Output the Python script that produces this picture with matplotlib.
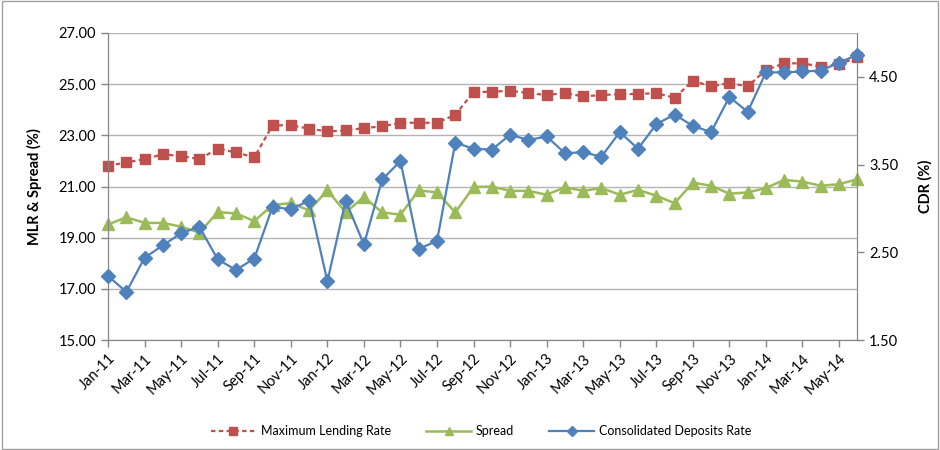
import matplotlib
matplotlib.use("Agg")
import matplotlib.pyplot as plt
from matplotlib.patches import Rectangle

plt.rcParams['font.family'] = ['Lato', 'DejaVu Sans']

months = ['Jan-11', 'Feb-11', 'Mar-11', 'Apr-11', 'May-11', 'Jun-11', 'Jul-11', 'Aug-11',
          'Sep-11', 'Oct-11', 'Nov-11', 'Dec-11', 'Jan-12', 'Feb-12', 'Mar-12', 'Apr-12',
          'May-12', 'Jun-12', 'Jul-12', 'Aug-12', 'Sep-12', 'Oct-12', 'Nov-12', 'Dec-12',
          'Jan-13', 'Feb-13', 'Mar-13', 'Apr-13', 'May-13', 'Jun-13', 'Jul-13', 'Aug-13',
          'Sep-13', 'Oct-13', 'Nov-13', 'Dec-13', 'Jan-14', 'Feb-14', 'Mar-14', 'Apr-14',
          'May-14', 'Jun-14']

# Maximum Lending Rate (left axis)
mlr = [21.81, 21.94, 22.07, 22.26, 22.19, 22.07, 22.48, 22.33, 22.14, 23.39, 23.39, 23.26,
       23.15, 23.19, 23.28, 23.35, 23.49, 23.49, 23.49, 23.80, 24.69, 24.70, 24.74, 24.65,
       24.57, 24.65, 24.52, 24.57, 24.61, 24.61, 24.65, 24.46, 25.13, 24.91, 25.04, 24.91,
       25.55, 25.81, 25.81, 25.68, 25.77, 26.04]

# Spread (left axis)
spread = [19.52, 19.80, 19.58, 19.58, 19.43, 19.20, 20.00, 19.95, 19.65, 20.28, 20.35, 20.07,
          20.85, 19.99, 20.59, 19.99, 19.90, 20.85, 20.77, 19.99, 20.98, 21.00, 20.83, 20.83,
          20.68, 20.97, 20.83, 20.94, 20.68, 20.87, 20.64, 20.35, 21.15, 21.03, 20.72, 20.77,
          20.94, 21.26, 21.19, 21.03, 21.09, 21.28]

# Consolidated Deposits Rate (right axis)
cdr = [2.23, 2.05, 2.44, 2.58, 2.72, 2.79, 2.42, 2.30, 2.43, 3.02, 2.99, 3.09,
       2.17, 3.09, 2.59, 3.33, 3.54, 2.54, 2.63, 3.75, 3.68, 3.67, 3.84, 3.78,
       3.82, 3.63, 3.64, 3.59, 3.87, 3.68, 3.96, 4.07, 3.94, 3.87, 4.27, 4.10,
       4.55, 4.55, 4.56, 4.57, 4.66, 4.75]

left_ticks = [15, 17, 19, 21, 23, 25, 27]
right_ticks = [1.5, 2.5, 3.5, 4.5]

red = '#C0504D'
green = '#9BBB59'
blue = '#4F81BD'
axcol = '#868686'

x = list(range(len(months)))

fig = plt.figure(figsize=(9.4, 4.5), dpi=100)
fig.patches.append(Rectangle((0.002, 0.003), 0.996, 0.994, transform=fig.transFigure,
                             fill=False, edgecolor='#A0A0A0', lw=1))
ax = fig.add_axes([0.115, 0.244, 0.797, 0.683])
ax2 = ax.twinx()

l1, = ax.plot(x, mlr, color=red, lw=1.6, ls=(0, (2, 1.5)), marker='s', ms=7.5,
              mec=red, mfc=red, clip_on=False, zorder=3)
l2, = ax.plot(x, spread, color=green, lw=1.8, marker='^', ms=8.5,
              mec=green, mfc=green, clip_on=False, zorder=3)
l3, = ax2.plot(x, cdr, color=blue, lw=1.6, marker='D', ms=7,
               mec=blue, mfc=blue, clip_on=False, zorder=3)

ax.set_xlim(0, 41)
ax.set_ylim(15, 27)
ax.set_yticks(left_ticks)
ax.set_yticklabels(['%.2f' % v for v in left_ticks], fontsize=10.5)
ax2.set_ylim(1.5, 5.0)
ax2.set_yticks(right_ticks)
ax2.set_yticklabels(['%.2f' % v for v in right_ticks], fontsize=10.5)

ax.set_xticks(x[::2])
ax.set_xticklabels(months[::2], rotation=45, ha='right', rotation_mode='anchor', fontsize=10.5)

ax.grid(axis='y', color='#B3B3B3', lw=1)
ax.set_axisbelow(True)

for a in (ax, ax2):
    for s in a.spines.values():
        s.set_color(axcol)
    a.spines['top'].set_visible(False)
    a.tick_params(colors=axcol, labelcolor='black', length=5, width=1)
ax.tick_params(axis='x', pad=3)

ax.set_ylabel('MLR & Spread (%)', fontsize=10.5, fontweight='bold', labelpad=12)
ax2.set_ylabel('CDR (%)', fontsize=10.5, fontweight='bold', rotation=90, labelpad=14)

fig.legend([l1, l2, l3], ['Maximum Lending Rate', 'Spread', 'Consolidated Deposits Rate'],
           loc='center', bbox_to_anchor=(0.512, 0.042), ncol=3, frameon=False,
           fontsize=9, handlelength=3.6, handletextpad=0.4, columnspacing=2.8,
           markerscale=0.7)

fig.savefig('out.png', dpi=100)
